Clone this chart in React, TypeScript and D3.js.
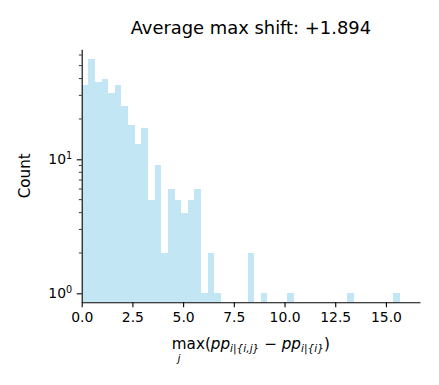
import React, { useEffect, useRef } from 'react';
import * as d3 from 'd3';

// histogram counts per bin (bin width ~0.327, starting at 0)
const binWidth = 0.327;
const counts = [
  36, 56, 38, 40, 31, 36, 25, 18, 13, 17,
  5, 9, 2, 6, 5, 4, 5, 6, 1, 2,
  1, 0, 0, 0, 0, 2, 0, 1, 0, 0,
  0, 1, 0, 0, 0, 0, 0, 0, 0, 0,
  1, 0, 0, 0, 0, 0, 0, 1,
];
const xTicks = [0, 2.5, 5, 7.5, 10, 12.5, 15];
const yMajor = [1, 10];
const yMinor = [2, 3, 4, 5, 6, 7, 8, 9, 20, 30, 40, 50, 60];
const title = 'Average max shift: +1.894';
const yLabel = 'Count';

const App = () => {
  const svgRef = useRef<SVGSVGElement>(null);

  useEffect(() => {
    const width = 439;
    const height = 385;
    const margin = { top: 49.3, right: 19, bottom: 82.7, left: 81.7 };
    const font = 'DejaVu Sans, sans-serif';

    const svg = d3.select(svgRef.current)
      .attr('width', width)
      .attr('height', height);
    svg.selectAll('*').remove();

    const x = d3.scaleLinear()
      .domain([0, 16.68])
      .range([margin.left, width - margin.right]);
    const y = d3.scaleLog()
      .domain([0.857, 66.2])
      .range([height - margin.bottom, margin.top]);

    const bins = counts.map((c, i) => ({ x0: i * binWidth, x1: (i + 1) * binWidth, count: c }))
      .filter(d => d.count > 0);

    svg.append('g')
      .attr('shape-rendering', 'crispEdges')
      .selectAll('rect')
      .data(bins)
      .enter()
      .append('rect')
      .attr('x', d => x(d.x0))
      .attr('width', d => x(d.x1) - x(d.x0))
      .attr('y', d => y(d.count))
      .attr('height', d => y.range()[0] - y(d.count))
      .attr('fill', 'skyblue')
      .attr('fill-opacity', 0.5);

    // x axis
    const xAxis = svg.append('g')
      .attr('transform', `translate(0,${height - margin.bottom})`)
      .call(d3.axisBottom(x).tickValues(xTicks).tickFormat(d3.format('.1f')).tickSize(4.9).tickPadding(4.5).tickSizeOuter(0));
    xAxis.select('.domain').attr('stroke', '#000').attr('stroke-width', 1.1);
    xAxis.selectAll('line').attr('stroke', '#000').attr('stroke-width', 1.1);
    xAxis.selectAll('text').attr('font-family', font).attr('font-size', 13.9).attr('fill', '#000');

    // y axis
    const yAxis = svg.append('g')
      .attr('transform', `translate(${margin.left},0)`)
      .call(d3.axisLeft(y).tickValues(yMajor).tickFormat(() => '').tickSize(4.9).tickSizeOuter(0));
    yAxis.select('.domain').attr('stroke', '#000').attr('stroke-width', 1.1);
    yAxis.selectAll('line').attr('stroke', '#000').attr('stroke-width', 1.1);

    yAxis.selectAll('.minor')
      .data(yMinor)
      .enter()
      .append('line')
      .attr('x1', 0)
      .attr('x2', -2.8)
      .attr('y1', d => y(d))
      .attr('y2', d => y(d))
      .attr('stroke', '#000')
      .attr('stroke-width', 0.8);

    const yl = svg.append('g')
      .selectAll('text')
      .data(yMajor)
      .enter()
      .append('text')
      .attr('x', margin.left - 9.5)
      .attr('y', d => y(d) + 5)
      .attr('text-anchor', 'end')
      .attr('font-family', font)
      .attr('font-size', 13.9);
    yl.append('tspan').text('10');
    yl.append('tspan').attr('dy', -5.5).attr('font-size', 9.7).text(d => String(Math.round(Math.log10(d))));

    // title
    svg.append('text')
      .attr('x', (margin.left + width - margin.right) / 2)
      .attr('y', 33.5)
      .attr('text-anchor', 'middle')
      .attr('font-family', font)
      .attr('font-size', 17.9)
      .text(title);

    // y label
    svg.append('text')
      .attr('transform', `translate(30,${(margin.top + height - margin.bottom) / 2}) rotate(-90)`)
      .attr('text-anchor', 'middle')
      .attr('font-family', font)
      .attr('font-size', 15.2)
      .text(yLabel);

    // x label (math text)
    const xl = svg.append('text')
      .attr('x', (margin.left + width - margin.right) / 2)
      .attr('y', 349)
      .attr('text-anchor', 'middle')
      .attr('font-family', font)
      .attr('font-size', 15.2);
    xl.append('tspan').text('max(');
    xl.append('tspan').attr('font-style', 'italic').text('pp');
    xl.append('tspan').attr('dy', 3.2).attr('font-size', 10.6).attr('font-style', 'italic').text('i|{i,j}');
    xl.append('tspan').attr('dy', -3.2).text(' \u2212 ');
    xl.append('tspan').attr('font-style', 'italic').text('pp');
    xl.append('tspan').attr('dy', 3.2).attr('font-size', 10.6).attr('font-style', 'italic').text('i|{i}');
    xl.append('tspan').attr('dy', -3.2).text(')');

    svg.append('text')
      .attr('x', 179)
      .attr('y', 362)
      .attr('text-anchor', 'middle')
      .attr('font-family', font)
      .attr('font-size', 10.6)
      .attr('font-style', 'italic')
      .text('j');
  }, []);

  return (
    <div style={{ position: 'absolute', left: 0, top: 0, background: '#fff' }}>
      <svg ref={svgRef} style={{ display: 'block' }}></svg>
    </div>
  );
};

export default App;
